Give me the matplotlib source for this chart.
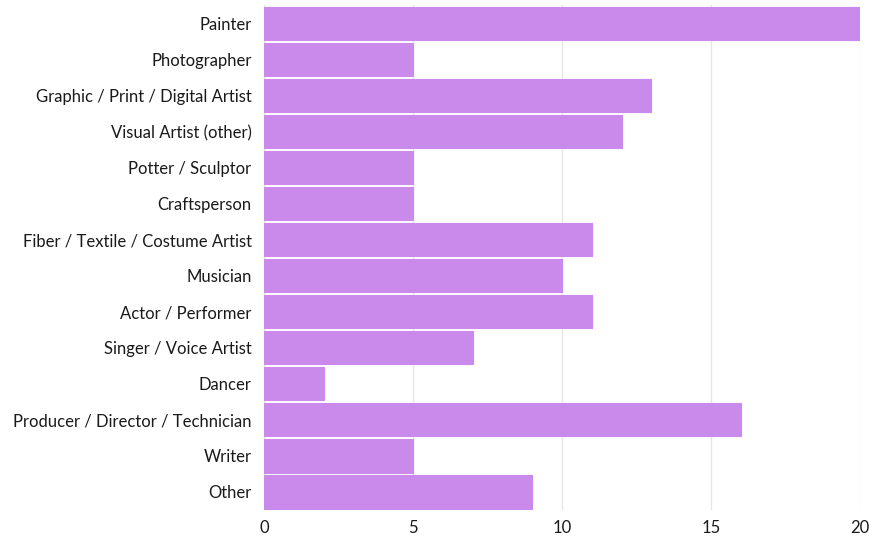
import matplotlib.pyplot as plt
import numpy as np

categories = ['Painter', 'Photographer', 'Graphic / Print / Digital Artist',
              'Visual Artist (other)', 'Potter / Sculptor', 'Craftsperson',
              'Fiber / Textile / Costume Artist', 'Musician', 'Actor / Performer',
              'Singer / Voice Artist', 'Dancer', 'Producer / Director / Technician',
              'Writer', 'Other']
counts = [20, 5, 13, 12, 5, 5, 11, 10, 11, 7, 2, 16, 5, 9]
xticks = [0, 5, 10, 15, 20]

plt.rcParams['font.family'] = ['Lato', 'DejaVu Sans']
plt.rcParams['font.size'] = 12

fig = plt.figure(figsize=(8.69, 5.37), dpi=100)
ax = fig.add_axes([0.3038, 0.0503, 0.6858, 0.9395])

index = np.arange(len(categories))
ax.barh(index, counts, height=0.92, color='#c98aeb', edgecolor='#c98aeb',
        linewidth=0.8, joinstyle='round', zorder=3)

ax.set_ylim(len(categories) - 0.5, -0.5)
ax.set_xlim(0, 20)
ax.set_yticks(index)
ax.set_yticklabels(categories, color='#1a1a1a')
ax.set_xticks(xticks)
ax.set_xticklabels([str(t) for t in xticks], color='#1a1a1a')
ax.tick_params(length=0)
ax.tick_params(axis='y', pad=9)
ax.tick_params(axis='x', pad=7)
ax.grid(axis='x', color='#e6e6e6', linewidth=1)
ax.set_axisbelow(True)
for s in ax.spines.values():
    s.set_visible(False)

fig.savefig('out.png', dpi=100)
